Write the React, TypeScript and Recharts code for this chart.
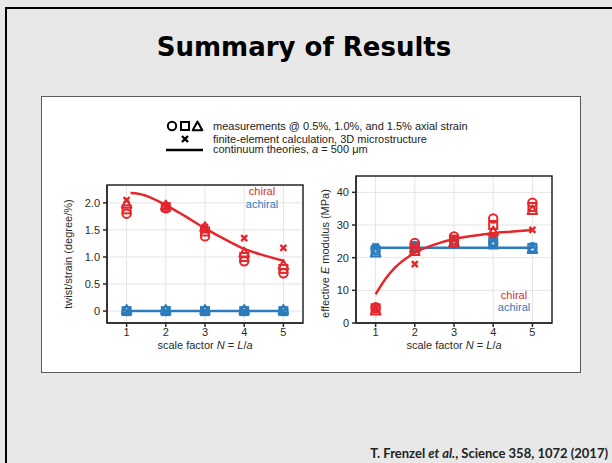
import React from 'react';
import { ComposedChart, Line, Scatter, XAxis, YAxis, CartesianGrid, ReferenceArea } from 'recharts';

const scaleFactors = [1, 2, 3, 4, 5];
const twistTicks = [0, 0.5, 1.0, 1.5, 2.0];
const modulusTicks = [0, 10, 20, 30, 40];

// twist/strain (degree/%), measured at 0.5%, 1.0%, 1.5% strain (circle, square, triangle)
const chiralTwistCircle = [1.8, 1.9, 1.38, 0.92, 0.7];
const chiralTwistSquare = [1.88, 1.92, 1.47, 1.0, 0.78];
const chiralTwistTriangle = [1.98, 1.95, 1.55, 1.08, 0.85];
const chiralTwistFem = [2.05, 1.93, 1.55, 1.35, 1.17];
const achiralTwistCircle = [0, 0, 0, 0, 0];
const achiralTwistSquare = [0, 0, 0, 0, 0];
const achiralTwistTriangle = [0.02, 0.02, 0.02, 0.02, 0.02];
const achiralTwistFem = [0, 0, 0, 0, 0];

// continuum theory curves
const chiralTwistTheoryN = [1.1, 1.3, 1.5, 2, 2.5, 3, 3.5, 4, 4.5, 5];
const chiralTwistTheory = [2.18, 2.17, 2.13, 1.96, 1.75, 1.53, 1.33, 1.15, 1.03, 0.93];
const achiralTwistTheoryN = [1, 5];
const achiralTwistTheory = [0, 0];

// effective E modulus (MPa)
const chiralModCircle = [4.8, 24.5, 26.5, 32, 36.8];
const chiralModSquare = [4.5, 23, 25.5, 30, 35.5];
const chiralModTriangle = [3.8, 22, 24.5, 28, 34.5];
const chiralModFem = [4.5, 18, 26, 27, 28.5];
const achiralModCircle = [22.8, 23.5, 25, 24.5, 23.2];
const achiralModSquare = [22.2, 23.5, 25, 25, 23];
const achiralModTriangle = [21.5, 23, 24.5, 24, 22.6];
const achiralModFem = [23.5, 23.5, 25.5, 25.5, 23.5];

const chiralModTheoryN = [1, 1.25, 1.5, 2, 2.5, 3, 3.5, 4, 4.5, 5];
const chiralModTheory = [8.8, 13.5, 17, 21.5, 24, 25.7, 26.7, 27.5, 28, 28.5];
const achiralModTheoryN = [1, 5];
const achiralModTheory = [23, 23];

const RED = '#e5262b';
const BLUE = '#2c7cbd';
const AXIS = '#2a2a2a';
const FONT = '"Liberation Sans", Arial, sans-serif';

const pts = (ys: number[], xs: number[] = scaleFactors) => xs.map((x, i) => ({ x, y: ys[i] }));

type Kind = 'circle' | 'square' | 'triangle' | 'cross';

const Mark = ({ cx, cy, kind, color }: { cx: number; cy: number; kind: Kind; color: string }) => {
  if (cx == null || cy == null) return null;
  const sw = 2;
  if (kind === 'circle') return <circle cx={cx} cy={cy} r={4.2} fill="none" stroke={color} strokeWidth={sw} />;
  if (kind === 'square')
    return <rect x={cx - 4} y={cy - 4} width={8} height={8} fill="none" stroke={color} strokeWidth={sw} />;
  if (kind === 'triangle')
    return (
      <polygon
        points={`${cx},${cy - 5} ${cx - 4.8},${cy + 3.8} ${cx + 4.8},${cy + 3.8}`}
        fill="none"
        stroke={color}
        strokeWidth={sw}
        strokeLinejoin="round"
      />
    );
  return (
    <g stroke={color} strokeWidth={2.4}>
      <line x1={cx - 3} y1={cy - 3} x2={cx + 3} y2={cy + 3} />
      <line x1={cx - 3} y1={cy + 3} x2={cx + 3} y2={cy - 3} />
    </g>
  );
};

const markShape = (kind: Kind, color: string) => (p: any) => <Mark cx={p.cx} cy={p.cy} kind={kind} color={color} />;

const tickStyle = { fontSize: 11, fill: AXIS, fontFamily: FONT };

const XTitle = (props: any) => {
  const vb = props.viewBox;
  return (
    <text x={vb.x + vb.width / 2} y={vb.y + 26} textAnchor="middle" fontSize={11} fill={AXIS} fontFamily={FONT}>
      scale factor <tspan fontStyle="italic">N</tspan> = <tspan fontStyle="italic">L</tspan>/<tspan fontStyle="italic">a</tspan>
    </text>
  );
};

const ScatterSet = (
  color: string,
  circle: number[],
  square: number[],
  triangle: number[],
  fem: number[],
  key: string,
) => [
  <Scatter key={key + 'c'} data={pts(circle)} dataKey="y" shape={markShape('circle', color)} isAnimationActive={false} />,
  <Scatter key={key + 's'} data={pts(square)} dataKey="y" shape={markShape('square', color)} isAnimationActive={false} />,
  <Scatter key={key + 't'} data={pts(triangle)} dataKey="y" shape={markShape('triangle', color)} isAnimationActive={false} />,
  <Scatter key={key + 'x'} data={pts(fem)} dataKey="y" shape={markShape('cross', color)} isAnimationActive={false} />,
];

const TwistChart = () => (
  <ComposedChart width={262} height={176} margin={{ top: 7, right: 4, bottom: 4, left: 0 }}>
    <CartesianGrid stroke="#e4e4e4" strokeWidth={1} />
    <XAxis
      type="number"
      dataKey="x"
      domain={[0.5, 5.5]}
      ticks={scaleFactors}
      allowDataOverflow
      height={27}
      tickSize={4}
      tickMargin={1}
      tick={tickStyle}
      stroke={AXIS}
      strokeWidth={1.5}
      label={XTitle}
    />
    <YAxis
      type="number"
      domain={[-0.22, 2.33]}
      ticks={twistTicks}
      allowDataOverflow
      width={62}
      tickSize={4}
      tickMargin={3}
      tick={tickStyle}
      tickFormatter={(v: number) => (v === 0 ? '0' : v.toFixed(1))}
      stroke={AXIS}
      strokeWidth={1.5}
      label={(props: any) => {
        const vb = props.viewBox;
        const cx = vb.x + 23;
        const cy = vb.y + vb.height / 2;
        return (
          <text x={cx} y={cy} transform={`rotate(-90 ${cx} ${cy})`} textAnchor="middle" dominantBaseline="central" fontSize={11} fill={AXIS} fontFamily={FONT}>
            twist/strain (degree/%)
          </text>
        );
      }}
    />
    <ReferenceArea x1={0.5} x2={5.5} y1={-0.22} y2={2.33} fill="none" stroke={AXIS} strokeWidth={1.5} />
    {ScatterSet(BLUE, achiralTwistCircle, achiralTwistSquare, achiralTwistTriangle, achiralTwistFem, 'ab')}
    {ScatterSet(RED, chiralTwistCircle, chiralTwistSquare, chiralTwistTriangle, chiralTwistFem, 'ch')}
    <Line data={pts(achiralTwistTheory, achiralTwistTheoryN)} dataKey="y" type="linear" stroke={BLUE} strokeWidth={2.5} dot={false} isAnimationActive={false} />
    <Line data={pts(chiralTwistTheory, chiralTwistTheoryN)} dataKey="y" type="monotone" stroke={RED} strokeWidth={2.5} dot={false} isAnimationActive={false} />
  </ComposedChart>
);

const ModulusChart = () => (
  <ComposedChart width={256} height={184} margin={{ top: 6, right: 4, bottom: 4, left: 0 }}>
    <CartesianGrid stroke="#e4e4e4" strokeWidth={1} />
    <XAxis
      type="number"
      dataKey="x"
      domain={[0.5, 5.5]}
      ticks={scaleFactors}
      allowDataOverflow
      height={27}
      tickSize={4}
      tickMargin={1}
      tick={tickStyle}
      stroke={AXIS}
      strokeWidth={1.5}
      label={XTitle}
    />
    <YAxis
      type="number"
      domain={[0, 45]}
      ticks={modulusTicks}
      allowDataOverflow
      width={56}
      tickSize={4}
      tickMargin={3}
      tick={tickStyle}
      stroke={AXIS}
      strokeWidth={1.5}
      label={(props: any) => {
        const vb = props.viewBox;
        const cx = vb.x + 25;
        const cy = vb.y + vb.height / 2 + 4;
        return (
          <text x={cx} y={cy} transform={`rotate(-90 ${cx} ${cy})`} textAnchor="middle" dominantBaseline="central" fontSize={11} fill={AXIS} fontFamily={FONT}>
            effective <tspan fontStyle="italic">E</tspan> modulus (MPa)
          </text>
        );
      }}
    />
    <ReferenceArea x1={0.5} x2={5.5} y1={0} y2={45} fill="none" stroke={AXIS} strokeWidth={1.5} />
    {ScatterSet(BLUE, achiralModCircle, achiralModSquare, achiralModTriangle, achiralModFem, 'ab')}
    {ScatterSet(RED, chiralModCircle, chiralModSquare, chiralModTriangle, chiralModFem, 'ch')}
    <Line data={pts(achiralModTheory, achiralModTheoryN)} dataKey="y" type="linear" stroke={BLUE} strokeWidth={2.5} dot={false} isAnimationActive={false} />
    <Line data={pts(chiralModTheory, chiralModTheoryN)} dataKey="y" type="monotone" stroke={RED} strokeWidth={2.5} dot={false} isAnimationActive={false} />
  </ComposedChart>
);

const App: React.FC = () => {
  return (
    <div style={{ position: 'absolute', left: 0, top: 0, width: 612, height: 463, overflow: 'hidden', background: '#e8e8e8' }}>
      <div style={{ position: 'absolute', left: 5, top: 7, width: 700, height: 600, borderLeft: '2px solid #000', borderTop: '2px solid #000' }} />
      <div
        style={{
          position: 'absolute',
          left: 0,
          width: 608,
          top: 30,
          textAlign: 'center',
          fontFamily: '"DejaVu Sans", sans-serif',
          fontWeight: 700,
          fontSize: 26,
          lineHeight: '34px',
          color: '#000',
        }}
      >
        Summary of Results
      </div>
      <div style={{ position: 'absolute', left: 41, top: 96, width: 540, height: 277, boxSizing: 'border-box', border: '1px solid #5a5a5a', background: '#fff' }} />

      <div style={{ position: 'absolute', left: 45, top: 178 }}>
        <TwistChart />
      </div>
      <div style={{ position: 'absolute', left: 300, top: 170 }}>
        <ModulusChart />
      </div>

      <svg width={612} height={463} style={{ position: 'absolute', left: 0, top: 0, pointerEvents: 'none' }} fontFamily={FONT}>
        <Mark cx={172} cy={126} kind="circle" color="#000" />
        <Mark cx={185} cy={126} kind="square" color="#000" />
        <Mark cx={197.5} cy={126.5} kind="triangle" color="#000" />
        <Mark cx={185} cy={139} kind="cross" color="#000" />
        <line x1={166} x2={203} y1={150} y2={150} stroke="#000" strokeWidth={2.5} />
        <text x={213} y={129.5} fontSize={11} fill="#222">measurements @ 0.5%, 1.0%, and 1.5% axial strain</text>
        <text x={213} y={142.5} fontSize={11} fill="#222">finite-element calculation, 3D microstructure</text>
        <text x={213} y={153} fontSize={11} fill="#222">
          continuum theories, <tspan fontStyle="italic">a</tspan> = 500 μm
        </text>

        <text x={262} y={195} textAnchor="middle" fontSize={11} fill={RED}>chiral</text>
        <text x={262} y={208} textAnchor="middle" fontSize={11} fill={BLUE}>achiral</text>
        <text x={514} y={299} textAnchor="middle" fontSize={11} fill={RED}>chiral</text>
        <text x={514} y={311} textAnchor="middle" fontSize={11} fill={BLUE}>achiral</text>
      </svg>

      <div
        style={{
          position: 'absolute',
          right: 4,
          top: 444,
          fontFamily: 'Lato, sans-serif',
          fontWeight: 700,
          fontSize: 13,
          lineHeight: '18px',
          color: '#222',
          whiteSpace: 'nowrap',
        }}
      >
        T. Frenzel <i>et al.</i>, Science 358, 1072 (2017)
      </div>
    </div>
  );
};

export default App;
